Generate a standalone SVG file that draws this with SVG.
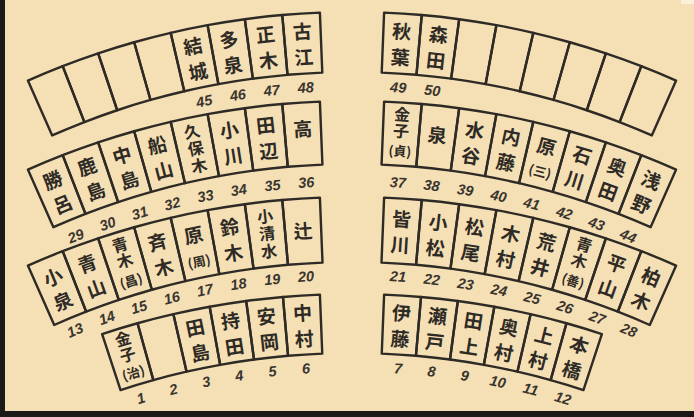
<svg xmlns="http://www.w3.org/2000/svg" width="694" height="417" viewBox="0 0 694 417">
<style>
.bx{fill:none;stroke:#2e2a25;stroke-width:2.4;stroke-linejoin:round}
.n{font-family:"Noto Sans CJK JP","Noto Sans CJK SC",sans-serif;font-weight:bold;font-size:19px;fill:#2e2a25;text-anchor:middle}
.s{font-size:16px}
.p{font-size:13px}
.num{font-family:"Liberation Sans",Arial,sans-serif;font-style:italic;font-weight:bold;font-size:14.5px;fill:#3a352f;text-anchor:middle}
</style>
<defs>
<path id="b1" class="bx" d="M-18.85,-799.78 A800,800 0 0 1 18.85,-799.78 L17.43,-739.79 A740,740 0 0 0 -17.43,-739.79 Z"/>
<path id="b2" class="bx" d="M-18.85,-799.78 A800,800 0 0 1 18.85,-799.78 L17.36,-736.80 A737,737 0 0 0 -17.36,-736.80 Z"/>
<path id="b3" class="bx" d="M-18.85,-799.78 A800,800 0 0 1 18.85,-799.78 L17.32,-734.80 A735,735 0 0 0 -17.32,-734.80 Z"/>
<path id="b4" class="bx" d="M-18.50,-799.79 A800,800 0 0 1 18.50,-799.79 L17.13,-740.80 A741,741 0 0 0 -17.13,-740.80 Z"/>
</defs>
<rect width="694" height="417" fill="#f5dfb4"/>
<rect x="0" y="0" width="5" height="417" fill="#1c1a18"/>
<rect x="0" y="411" width="694" height="6" fill="#1c1a18"/>
<rect x="681" y="0" width="13" height="4" fill="#fbf0d8"/>

<g id="seats">
<!-- Row 1 left -->
<g id="seat-48" transform="translate(352 812) rotate(-3.65)"><use href="#b1"/><text class="n" y="-775">古<tspan x="0" dy="26">江</tspan></text><text class="num" y="-721">48</text></g>
<g id="seat-47" transform="translate(352 812) rotate(-6.35)"><use href="#b1"/><text class="n" y="-775">正<tspan x="0" dy="26">木</tspan></text><text class="num" y="-721">47</text></g>
<g id="seat-46" transform="translate(352 812) rotate(-9.05)"><use href="#b1"/><text class="n" y="-775">多<tspan x="0" dy="26">泉</tspan></text><text class="num" y="-721">46</text></g>
<g id="seat-45" transform="translate(352 812) rotate(-11.75)"><use href="#b1"/><text class="n" y="-775">結<tspan x="0" dy="26">城</tspan></text><text class="num" y="-721">45</text></g>
<g id="blank-l1" transform="translate(352 812) rotate(-14.45)"><use href="#b1"/></g>
<g id="blank-l2" transform="translate(352 812) rotate(-17.15)"><use href="#b1"/></g>
<g id="blank-l3" transform="translate(352 812) rotate(-19.85)"><use href="#b1"/></g>
<g id="blank-l4" transform="translate(352 812) rotate(-22.55)"><use href="#b1"/></g>
<!-- Row 1 right -->
<g id="seat-49" transform="translate(352 812) rotate(3.65)"><use href="#b1"/><text class="n" y="-775">秋<tspan x="0" dy="26">葉</tspan></text><text class="num" y="-721">49</text></g>
<g id="seat-50" transform="translate(352 812) rotate(6.35)"><use href="#b1"/><text class="n" y="-775">森<tspan x="0" dy="26">田</tspan></text><text class="num" y="-721">50</text></g>
<g id="blank-r1" transform="translate(352 812) rotate(9.05)"><use href="#b1"/></g>
<g id="blank-r2" transform="translate(352 812) rotate(11.75)"><use href="#b1"/></g>
<g id="blank-r3" transform="translate(352 812) rotate(14.45)"><use href="#b1"/></g>
<g id="blank-r4" transform="translate(352 812) rotate(17.15)"><use href="#b1"/></g>
<g id="blank-r5" transform="translate(352 812) rotate(19.85)"><use href="#b1"/></g>
<g id="blank-r6" transform="translate(352 812) rotate(22.55)"><use href="#b1"/></g>

<!-- Row 2 left -->
<g id="seat-36" transform="translate(352 901) rotate(-3.65)"><use href="#b2"/><text class="n" y="-766.5">高</text><text class="num" y="-715">36</text></g>
<g id="seat-35" transform="translate(352 901) rotate(-6.35)"><use href="#b2"/><text class="n" y="-773.3">田<tspan x="0" dy="26">辺</tspan></text><text class="num" y="-715">35</text></g>
<g id="seat-34" transform="translate(352 901) rotate(-9.05)"><use href="#b2"/><text class="n" y="-773.3">小<tspan x="0" dy="26">川</tspan></text><text class="num" y="-715">34</text></g>
<g id="seat-33" transform="translate(352 901) rotate(-11.75)"><use href="#b2"/><text class="n s" y="-780">久<tspan x="0" dy="17.5">保</tspan><tspan x="0" dy="17.5">木</tspan></text><text class="num" y="-715">33</text></g>
<g id="seat-32" transform="translate(352 901) rotate(-14.45)"><use href="#b2"/><text class="n" y="-773.3">船<tspan x="0" dy="26">山</tspan></text><text class="num" y="-715">32</text></g>
<g id="seat-31" transform="translate(352 901) rotate(-17.15)"><use href="#b2"/><text class="n" y="-773.3">中<tspan x="0" dy="26">島</tspan></text><text class="num" y="-715">31</text></g>
<g id="seat-30" transform="translate(352 901) rotate(-19.85)"><use href="#b2"/><text class="n" y="-773.3">鹿<tspan x="0" dy="26">島</tspan></text><text class="num" y="-715">30</text></g>
<g id="seat-29" transform="translate(352 901) rotate(-22.55)"><use href="#b2"/><text class="n" y="-773.3">勝<tspan x="0" dy="26">呂</tspan></text><text class="num" y="-715">29</text></g>
<!-- Row 2 right -->
<g id="seat-37" transform="translate(352 901) rotate(3.65)"><use href="#b2"/><text class="n s" y="-782">金<tspan x="0" dy="16.5">子</tspan><tspan x="0" dy="19" class="p">(貞)</tspan></text><text class="num" y="-715">37</text></g>
<g id="seat-38" transform="translate(352 901) rotate(6.35)"><use href="#b2"/><text class="n" y="-763.5">泉</text><text class="num" y="-715">38</text></g>
<g id="seat-39" transform="translate(352 901) rotate(9.05)"><use href="#b2"/><text class="n" y="-773.3">水<tspan x="0" dy="26">谷</tspan></text><text class="num" y="-715">39</text></g>
<g id="seat-40" transform="translate(352 901) rotate(11.75)"><use href="#b2"/><text class="n" y="-773.3">内<tspan x="0" dy="26">藤</tspan></text><text class="num" y="-715">40</text></g>
<g id="seat-41" transform="translate(352 901) rotate(14.45)"><use href="#b2"/><text class="n" y="-771.8">原<tspan x="0" dy="23.5" class="p">(三)</tspan></text><text class="num" y="-715">41</text></g>
<g id="seat-42" transform="translate(352 901) rotate(17.15)"><use href="#b2"/><text class="n" y="-773.3">石<tspan x="0" dy="26">川</tspan></text><text class="num" y="-715">42</text></g>
<g id="seat-43" transform="translate(352 901) rotate(19.85)"><use href="#b2"/><text class="n" y="-773.3">奥<tspan x="0" dy="26">田</tspan></text><text class="num" y="-715">43</text></g>
<g id="seat-44" transform="translate(352 901) rotate(22.55)"><use href="#b2"/><text class="n" y="-773.3">浅<tspan x="0" dy="26">野</tspan></text><text class="num" y="-715">44</text></g>

<!-- Row 3 left -->
<g id="seat-20" transform="translate(352 997) rotate(-3.65)"><use href="#b3"/><text class="n" y="-760.5">辻</text><text class="num" y="-717">20</text></g>
<g id="seat-19" transform="translate(352 997) rotate(-6.35)"><use href="#b3"/><text class="n s" y="-779.5">小<tspan x="0" dy="17.5">清</tspan><tspan x="0" dy="17.5">水</tspan></text><text class="num" y="-717">19</text></g>
<g id="seat-18" transform="translate(352 997) rotate(-9.05)"><use href="#b3"/><text class="n" y="-772.3">鈴<tspan x="0" dy="26">木</tspan></text><text class="num" y="-717">18</text></g>
<g id="seat-17" transform="translate(352 997) rotate(-11.75)"><use href="#b3"/><text class="n" y="-770.8">原<tspan x="0" dy="24.5" class="p">(周)</tspan></text><text class="num" y="-717">17</text></g>
<g id="seat-16" transform="translate(352 997) rotate(-14.45)"><use href="#b3"/><text class="n" y="-772.3">斉<tspan x="0" dy="26">木</tspan></text><text class="num" y="-717">16</text></g>
<g id="seat-15" transform="translate(352 997) rotate(-17.15)"><use href="#b3"/><text class="n s" y="-781">青<tspan x="0" dy="16.5">木</tspan><tspan x="0" dy="20" class="p">(昌)</tspan></text><text class="num" y="-717">15</text></g>
<g id="seat-14" transform="translate(352 997) rotate(-19.85)"><use href="#b3"/><text class="n" y="-772.3">青<tspan x="0" dy="26">山</tspan></text><text class="num" y="-717">14</text></g>
<g id="seat-13" transform="translate(352 997) rotate(-22.55)"><use href="#b3"/><text class="n" y="-772.3">小<tspan x="0" dy="26">泉</tspan></text><text class="num" y="-717">13</text></g>
<!-- Row 3 right -->
<g id="seat-21" transform="translate(352 997) rotate(3.65)"><use href="#b3"/><text class="n" y="-772.3">皆<tspan x="0" dy="26">川</tspan></text><text class="num" y="-717">21</text></g>
<g id="seat-22" transform="translate(352 997) rotate(6.35)"><use href="#b3"/><text class="n" y="-772.3">小<tspan x="0" dy="26">松</tspan></text><text class="num" y="-717">22</text></g>
<g id="seat-23" transform="translate(352 997) rotate(9.05)"><use href="#b3"/><text class="n" y="-772.3">松<tspan x="0" dy="26">尾</tspan></text><text class="num" y="-717">23</text></g>
<g id="seat-24" transform="translate(352 997) rotate(11.75)"><use href="#b3"/><text class="n" y="-772.3">木<tspan x="0" dy="26">村</tspan></text><text class="num" y="-717">24</text></g>
<g id="seat-25" transform="translate(352 997) rotate(14.45)"><use href="#b3"/><text class="n" y="-772.3">荒<tspan x="0" dy="26">井</tspan></text><text class="num" y="-717">25</text></g>
<g id="seat-26" transform="translate(352 997) rotate(17.15)"><use href="#b3"/><text class="n s" y="-781">青<tspan x="0" dy="16.5">木</tspan><tspan x="0" dy="20" class="p">(善)</tspan></text><text class="num" y="-717">26</text></g>
<g id="seat-27" transform="translate(352 997) rotate(19.85)"><use href="#b3"/><text class="n" y="-772.3">平<tspan x="0" dy="26">山</tspan></text><text class="num" y="-717">27</text></g>
<g id="seat-28" transform="translate(352 997) rotate(22.55)"><use href="#b3"/><text class="n" y="-772.3">柏<tspan x="0" dy="26">木</tspan></text><text class="num" y="-717">28</text></g>

<!-- Row 4 left -->
<g id="seat-6" transform="translate(352 1094) rotate(-3.625)"><use href="#b4"/><text class="n" y="-775.3">中<tspan x="0" dy="26">村</tspan></text><text class="num" y="-722">6</text></g>
<g id="seat-5" transform="translate(352 1094) rotate(-6.275)"><use href="#b4"/><text class="n" y="-775.3">安<tspan x="0" dy="26">岡</tspan></text><text class="num" y="-722">5</text></g>
<g id="seat-4" transform="translate(352 1094) rotate(-8.925)"><use href="#b4"/><text class="n" y="-775.3">持<tspan x="0" dy="26">田</tspan></text><text class="num" y="-722">4</text></g>
<g id="seat-3" transform="translate(352 1094) rotate(-11.575)"><use href="#b4"/><text class="n" y="-775.3">田<tspan x="0" dy="26">島</tspan></text><text class="num" y="-722">3</text></g>
<g id="seat-2" transform="translate(352 1094) rotate(-14.225)"><use href="#b4"/><text class="num" y="-722">2</text></g>
<g id="seat-1" transform="translate(352 1094) rotate(-16.875)"><use href="#b4"/><text class="n s" y="-783">金<tspan x="0" dy="16.5">子</tspan><tspan x="0" dy="18" class="p">(治)</tspan></text><text class="num" y="-722">1</text></g>
<!-- Row 4 right -->
<g id="seat-7" transform="translate(352 1094) rotate(3.625)"><use href="#b4"/><text class="n" y="-775.3">伊<tspan x="0" dy="26">藤</tspan></text><text class="num" y="-722">7</text></g>
<g id="seat-8" transform="translate(352 1094) rotate(6.275)"><use href="#b4"/><text class="n" y="-775.3">瀬<tspan x="0" dy="26">戸</tspan></text><text class="num" y="-722">8</text></g>
<g id="seat-9" transform="translate(352 1094) rotate(8.925)"><use href="#b4"/><text class="n" y="-775.3">田<tspan x="0" dy="26">上</tspan></text><text class="num" y="-722">9</text></g>
<g id="seat-10" transform="translate(352 1094) rotate(11.575)"><use href="#b4"/><text class="n" y="-775.3">奥<tspan x="0" dy="26">村</tspan></text><text class="num" y="-722">10</text></g>
<g id="seat-11" transform="translate(352 1094) rotate(14.225)"><use href="#b4"/><text class="n" y="-775.3">上<tspan x="0" dy="26">村</tspan></text><text class="num" y="-722">11</text></g>
<g id="seat-12" transform="translate(352 1094) rotate(16.875)"><use href="#b4"/><text class="n" y="-775.3">本<tspan x="0" dy="26">橋</tspan></text><text class="num" y="-722">12</text></g>
</g>
<g id="connectors"></g>
</svg>
